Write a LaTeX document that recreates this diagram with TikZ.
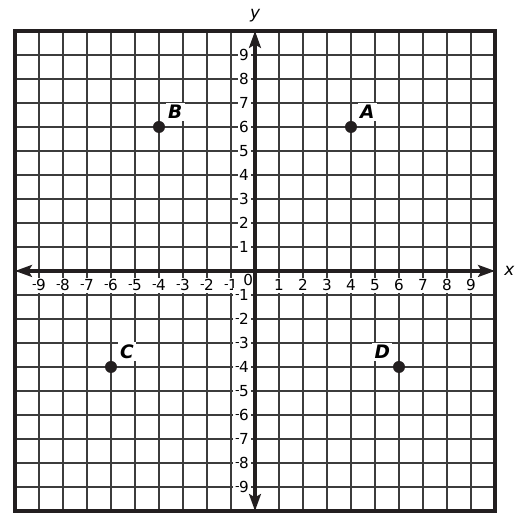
\documentclass[tikz,border=0pt]{standalone}
\usepackage{fontspec}
\setmainfont{DejaVu Sans}
\usetikzlibrary{arrows.meta,positioning}
\definecolor{Ink}{HTML}{231F20}
\definecolor{GridLine}{HTML}{3C3C3C}
\newcommand{\neglab}[1]{\raisebox{1.4pt}{\fontsize{7.5}{8}\selectfont -}\kern-0.3pt#1}
\tikzset{
  gridline/.style={draw=GridLine, line width=0.8pt},
  frame/.style={draw=Ink, line width=2.4pt},
  axis/.style={
    {Stealth[length=10pt,width=7pt,inset=2pt]}-{Stealth[length=10pt,width=7pt,inset=2pt]},
    draw=Ink, line width=2.2pt
  },
  ticklab/.style={fill=white, inner sep=1pt, font=\fontsize{9}{10}\selectfont},
  axislab/.style={font=\fontsize{10}{12}\selectfont\itshape},
  dot/.style={circle, fill=Ink, minimum size=0.25cm, inner sep=0pt},
  ptlabel/.style={fill=white, inner sep=1.5pt, font=\fontsize{11}{13}\selectfont\bfseries\itshape}
}

\begin{document}
\begin{tikzpicture}[x=0.5cm,y=0.5cm]
  \useasboundingbox (-10.625,-10.71) rectangle (11.375,11.29);
  % grid
  \foreach \k in {-9,...,9} {
    \draw[gridline] (\k,-10) -- (\k,10);
    \draw[gridline] (-10,\k) -- (10,\k);
  }
  \draw[frame] (-10,-10) rectangle (10,10);
  % tick labels
  \foreach \k in {1,...,9} {
    \node[ticklab] (xp\k) at (\k,-0.6) {\k};
    \node[ticklab] (xn\k) at (-\k,-0.6) {\neglab{\k}};
    \node[ticklab,anchor=east] (yp\k) at (-0.17,\k) {\k};
    \node[ticklab,anchor=east] (yn\k) at (-0.17,-\k) {\neglab{\k}};
  }
  \node[ticklab,fill=none,inner sep=0pt] (zero) at (-0.28,-0.38) {0};
  % axes
  \coordinate (xmin) at (-10,0);
  \coordinate (xmax) at (10,0);
  \coordinate (ymin) at (0,-10);
  \coordinate (ymax) at (0,10);
  \draw[axis] (xmin) -- (xmax);
  \draw[axis] (ymin) -- (ymax);
  \node[axislab] (xname) at (10.6,0) {x};
  \node[axislab] (yname) at (0,10.62) {y};
  % points
  \node[dot] (A) at (4,6) {};
  \node[dot] (B) at (-4,6) {};
  \node[dot] (C) at (-6,-4) {};
  \node[dot] (D) at (6,-4) {};
  \node[ptlabel,above right=0.5pt and 1pt of A] (labA) {A};
  \node[ptlabel,above right=0.5pt and 1pt of B] (labB) {B};
  \node[ptlabel,above right=0.5pt and 1pt of C] (labC) {C};
  \node[ptlabel,above left=0.5pt and 1pt of D] (labD) {D};
\end{tikzpicture}
\end{document}
